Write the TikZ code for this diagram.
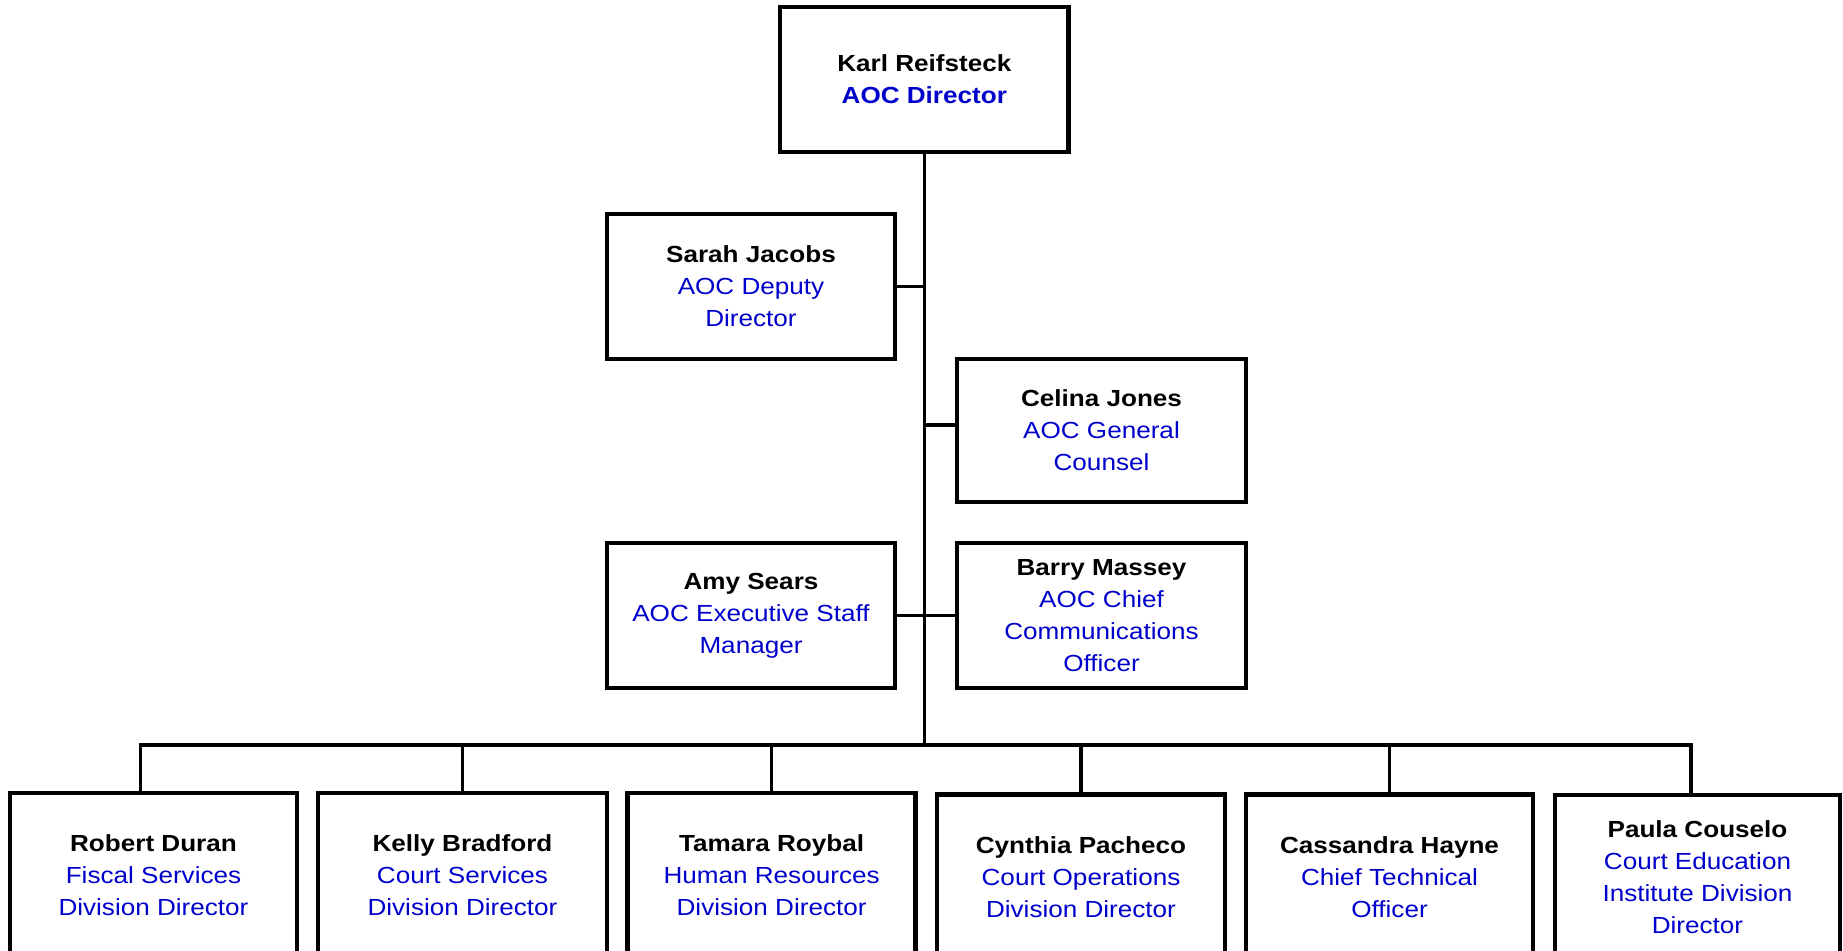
\documentclass[tikz,border=0pt]{standalone}
\usepackage{fontspec}
\setmainfont{Liberation Sans}[FakeStretch=1.12]
\definecolor{ttl}{RGB}{0,0,204}
\begin{document}
\begin{tikzpicture}[x=1pt,y=-1pt,
  box/.style={draw=black, line width=4.4pt, fill=white, minimum width=288pt,
    minimum height=145pt, inner sep=0pt, align=center,
    font=\fontsize{23.3}{32}\selectfont},
  low/.style={box, minimum height=165pt},
  link/.style={draw=black, line width=3.6pt, line join=miter}]
\useasboundingbox (0,0) rectangle (1843,950);
\fill[white] (0,0) rectangle (1843,950);

% upper boxes
\node[box, minimum width=288.5pt] (karl) at (924.3,79.5)
  {\textbf{Karl Reifsteck}\\\textcolor{ttl}{\textbf{AOC Director}}};
\node[box] (sarah) at (751,286.5)
  {\textbf{Sarah Jacobs}\\\textcolor{ttl}{AOC Deputy}\\\textcolor{ttl}{Director}};
\node[box, minimum width=289pt, minimum height=143pt] (celina) at (1101.5,430.5)
  {\textbf{Celina Jones}\\\textcolor{ttl}{AOC General}\\\textcolor{ttl}{Counsel}};
\node[box] (amy) at (751,615.5)
  {\textbf{Amy Sears}\\\textcolor{ttl}{AOC Executive Staff}\\\textcolor{ttl}{Manager}};
\node[box, minimum width=289pt] (barry) at (1101.5,615.5)
  {\textbf{Barry Massey}\\\textcolor{ttl}{AOC Chief}\\\textcolor{ttl}{Communications}\\\textcolor{ttl}{Officer}};

% lower boxes
\node[low, minimum width=287pt] (robert) at (153.5,875.5)
  {\textbf{Robert Duran}\\\textcolor{ttl}{Fiscal Services}\\\textcolor{ttl}{Division Director}};
\node[low, minimum width=289pt] (kelly) at (462.5,875.5)
  {\textbf{Kelly Bradford}\\\textcolor{ttl}{Court Services}\\\textcolor{ttl}{Division Director}};
\node[low] (tamara) at (771.6,875.5)
  {\textbf{Tamara Roybal}\\\textcolor{ttl}{Human Resources}\\\textcolor{ttl}{Division Director}};
\node[low] (cynthia) at (1081,877)
  {\textbf{Cynthia Pacheco}\\\textcolor{ttl}{Court Operations}\\\textcolor{ttl}{Division Director}};
\node[low, minimum width=287pt] (cassandra) at (1389.5,877)
  {\textbf{Cassandra Hayne}\\\textcolor{ttl}{Chief Technical}\\\textcolor{ttl}{Officer}};
\node[low, minimum width=285pt] (paula) at (1697.5,877.5)
  {\textbf{Paula Couselo}\\\textcolor{ttl}{Court Education}\\\textcolor{ttl}{Institute Division}\\\textcolor{ttl}{Director}};

% connectors
\coordinate (barL) at (140.6,745);
\coordinate (barR) at (1691,745);
\draw[link] (karl.south) -- (karl.south |- barL);
\draw[link] (sarah.east) -- (sarah.east -| karl.south);
\draw[link] ([yshift=5.5pt]celina.west) -- ([yshift=5.5pt]celina.west -| karl.south);
\draw[link] (amy.east) -- (barry.west);
\draw[link] (barL |- robert.north) -- (barL) -- (barR) -- (barR |- paula.north);
\draw[link] (kelly.north) -- (kelly.north |- barL);
\draw[link] (tamara.north) -- (tamara.north |- barL);
\draw[link] (cynthia.north) -- (cynthia.north |- barL);
\draw[link] (cassandra.north) -- (cassandra.north |- barL);
\end{tikzpicture}
\end{document}
